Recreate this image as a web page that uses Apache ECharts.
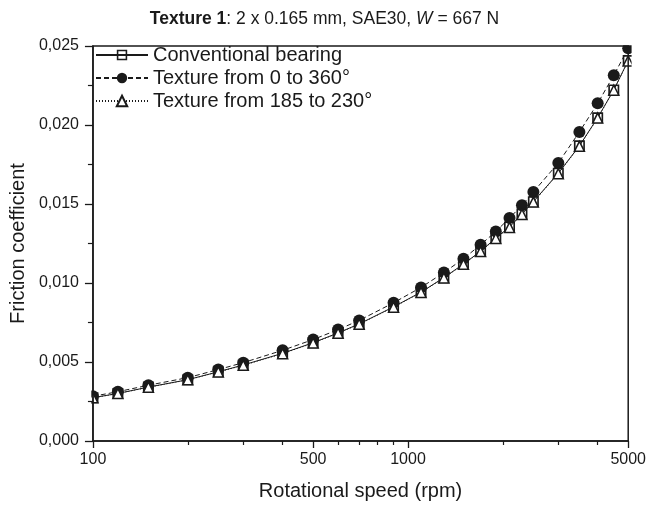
<!DOCTYPE html>
<html>
<head>
<meta charset="utf-8">
<script src="https://cdn.jsdelivr.net/npm/echarts@6/dist/echarts.min.js"></script>
<style>html,body{margin:0;padding:0;background:#fff}#c{width:649px;height:506px}</style>
</head>
<body>
<div id="c"></div>
<script>
// Rotational speed (rpm)
const rpm = [100,120,150,200,250,300,400,500,600,700,900,1100,1300,1500,1700,1900,2100,2300,2500,3000,3500,4000,4500,5000];
// Conventional bearing
const conventional = [0.00274,0.00301,0.00341,0.00388,0.00438,0.00481,0.00555,0.00622,0.00684,0.00741,0.00849,0.00942,0.01034,0.01120,0.01201,0.01284,0.01355,0.01436,0.01515,0.01695,0.01868,0.02046,0.02222,0.02408];
// Texture from 0 to 360°
const texture0to360 = [0.00283,0.00312,0.00353,0.00401,0.00452,0.00496,0.00574,0.00642,0.00705,0.00763,0.00875,0.00972,0.01066,0.01154,0.01242,0.01326,0.01411,0.01492,0.01576,0.01760,0.01956,0.02137,0.02315,0.02485];
// Texture from 185 to 230°
const texture185to230 = [0.00273,0.00300,0.00340,0.00387,0.00437,0.00479,0.00553,0.00620,0.00682,0.00739,0.00847,0.00940,0.01032,0.01118,0.01199,0.01282,0.01352,0.01434,0.01512,0.01692,0.01865,0.02044,0.02220,0.02405];
// Tick values
const xMajorTicks = [100,500,1000,5000];
const xMinorTicks = [200,300,400,600,700,800,900,2000,3000,4000];
const seriesNames = ['Conventional bearing','Texture from 0 to 360°','Texture from 185 to 230°'];

const ink = '#1a1a1a';
const FF = 'Liberation Sans, Arial, sans-serif';
const sqPath = 'path://M0,0H10V10H0Z M1.5,1.5V8.5H8.5V1.5Z M4,4H6V6H4Z';
const pairs = arr => rpm.map((x,i)=>[x,arr[i]]);

const chart = echarts.init(document.getElementById('c'), null, {renderer:'canvas'});
chart.setOption({
  animation:false,
  backgroundColor:'#fff',
  title:{
    left:'center', top:5, z:20,
    text:'{b|Texture 1}{n|: 2 x 0.165 mm, SAE30, }{i|W}{n| = 667 N}',
    textStyle:{
      fontWeight:'normal',
      rich:{
        b:{fontFamily:FF,fontSize:17.5,fontWeight:'bold',color:ink},
        n:{fontFamily:FF,fontSize:17.5,fontWeight:'normal',color:ink},
        i:{fontFamily:FF,fontSize:17.5,fontWeight:'normal',fontStyle:'italic',color:ink}
      }
    }
  },
  legend:{
    data:seriesNames,
    orient:'vertical', left:95, top:45, padding:0, z:20,
    itemWidth:52, itemHeight:13, itemGap:3,
    textStyle:{fontFamily:FF,fontSize:20,color:ink,lineHeight:20}
  },
  grid:{left:92,right:18,top:46,bottom:65,show:true,borderColor:ink,borderWidth:1.5,backgroundColor:'transparent',z:20},
  graphic:[
    {type:'rect',shape:{x:0,y:0,width:91.3,height:506},style:{fill:'#fff'},z:5,silent:true},
    {type:'rect',shape:{x:631.6,y:0,width:20,height:506},style:{fill:'#fff'},z:5,silent:true},
    {type:'rect',shape:{x:0,y:0,width:649,height:45.3},style:{fill:'#fff'},z:5,silent:true},
    {type:'rect',shape:{x:0,y:441.6,width:649,height:70},style:{fill:'#fff'},z:5,silent:true}
  ],
  xAxis:[{
    type:'log', logBase:10, min:100, max:5000, z:20,
    name:'Rotational speed (rpm)', nameLocation:'middle', nameGap:40,
    nameTextStyle:{fontFamily:FF,fontSize:20,color:ink},
    axisLine:{lineStyle:{color:ink,width:1.5}},
    axisTick:{customValues:xMajorTicks,length:7,lineStyle:{color:ink,width:1.3}},
    axisLabel:{customValues:xMajorTicks,margin:11,fontFamily:FF,fontSize:16,color:ink,formatter:v=>String(Math.round(v))},
    splitLine:{show:false}
  },{
    type:'log', logBase:10, min:100, max:5000, z:20, position:'bottom',
    axisLine:{show:false},
    axisTick:{customValues:xMinorTicks,length:4,lineStyle:{color:ink,width:1.2}},
    axisLabel:{show:false},
    splitLine:{show:false}
  }],
  yAxis:{
    type:'value', min:0, max:0.025, interval:0.005, z:20,
    name:'Friction coefficient', nameLocation:'middle', nameGap:63,
    nameTextStyle:{fontFamily:FF,fontSize:20,color:ink},
    axisLine:{show:true,lineStyle:{color:ink,width:1.5}},
    axisTick:{show:true,length:8,lineStyle:{color:ink,width:1.3}},
    minorTick:{show:true,splitNumber:2,length:5,lineStyle:{color:ink,width:1.2}},
    axisLabel:{margin:14,fontFamily:FF,fontSize:16,color:ink,formatter:v=>v.toFixed(3).replace('.',',')},
    splitLine:{show:false}
  },
  series:[
    {name:seriesNames[0],type:'line',data:pairs(conventional),z:3,clip:false,
     symbol:sqPath,symbolSize:11,itemStyle:{color:ink},
     lineStyle:{color:ink,width:1,type:'solid'}},
    {name:seriesNames[1],type:'line',data:pairs(texture0to360),z:2,clip:false,
     symbol:'circle',symbolSize:12,itemStyle:{color:ink},
     lineStyle:{color:ink,width:1,type:[5,3]}},
    {name:seriesNames[2],type:'line',data:pairs(texture185to230),z:4,clip:false,
     symbol:'triangle',symbolSize:10,itemStyle:{color:'#fff',borderColor:ink,borderWidth:1.5},
     lineStyle:{color:ink,width:1,type:[1,2]}}
  ]
});
</script>
</body>
</html>
